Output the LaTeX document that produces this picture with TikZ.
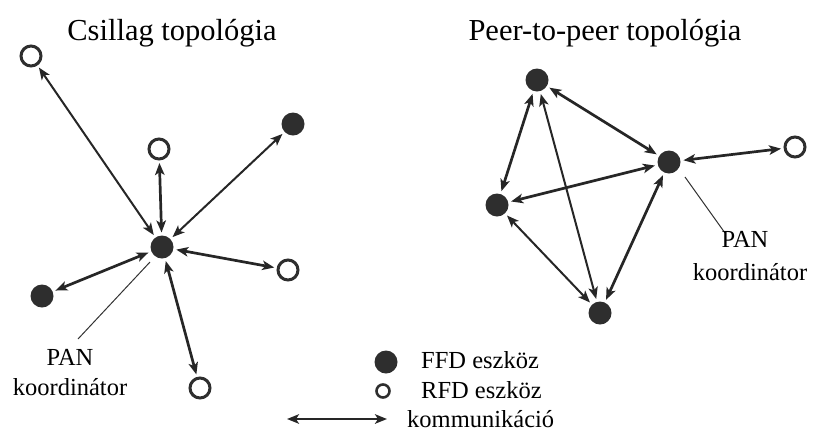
\documentclass[tikz,border=0pt]{standalone}
\usepackage{fontspec}
\setmainfont{Liberation Serif}
\usetikzlibrary{arrows.meta}
\definecolor{devfill}{HTML}{2E2E2E}
\begin{document}
\begin{tikzpicture}[x=1pt,y=-1pt,
  ffd/.style={circle,fill=devfill,minimum size=23pt,inner sep=0pt,outer sep=3pt},
  rfd/.style={circle,draw=devfill,line width=3pt,fill=white,minimum size=20pt,inner sep=0pt,outer sep=4pt},
  comm/.style={{Stealth[length=12pt,width=9.5pt,inset=3pt]}-{Stealth[length=12pt,width=9.5pt,inset=3pt]},line width=2pt,draw=black!85},
  commthick/.style={comm,line width=2.7pt},
  leader/.style={draw=black!80,line width=1pt},
  title/.style={font=\fontsize{30.5}{34}\selectfont,anchor=base},
  lbl/.style={font=\fontsize{24.5}{28}\selectfont,anchor=base,inner sep=0pt}]
\useasboundingbox (0,0) rectangle (813,432);

% ---- star topology ----
\node[title] (t1) at (172,40) {Csillag topológia};
\node[ffd] (c)  at (162,247) {};
\node[rfd] (s1) at (31,56) {};
\node[rfd] (s2) at (159,149) {};
\node[ffd] (s3) at (293,124) {};
\node[ffd] (s4) at (42,296) {};
\node[rfd] (s5) at (288,270) {};
\node[rfd] (s6) at (200,388) {};

\draw[comm] (c) -- (s1);
\draw[commthick] (c) -- (s2);
\draw[comm] (c) -- (s3);
\draw[commthick] (c) -- (s4);
\draw[commthick] (c) -- (s5);
\draw[commthick] (c) -- (s6);

\coordinate (l1a) at (150,262);
\coordinate (l1b) at (78,339);
\draw[leader] (l1a) -- (l1b);
\node[lbl] (pan1) at (70,365) {PAN};
\node[lbl] (koord1) at (70,395) {koordinátor};

% ---- peer-to-peer topology ----
\node[title] (t2) at (605,40) {Peer-to-peer topológia};
\node[ffd] (pa) at (537,80) {};
\node[ffd] (pb) at (669,162) {};
\node[ffd] (pc) at (497,205) {};
\node[ffd] (pd) at (600,313) {};
\node[rfd] (pe) at (795,147) {};

\draw[commthick] (pa) -- (pb);
\draw[commthick] (pa) -- (pc);
\draw[comm] (pa) -- (pd);
\draw[commthick] (pc) -- (pb);
\draw[comm] (pc) -- (pd);
\draw[commthick] (pb) -- (pd);
\draw[commthick] (pb) -- (pe);

\coordinate (l2a) at (685,177);
\coordinate (l2b) at (725,233);
\draw[leader] (l2a) -- (l2b);
\node[lbl] (pan2) at (745,247) {PAN};
\node[lbl] (koord2) at (750,280) {koordinátor};

% ---- legend ----
\node[ffd] (lg1) at (386,362) {};
\node[circle,draw=devfill,line width=2.6pt,minimum size=13pt,inner sep=0pt] (lg2) at (383,391) {};
\coordinate (la) at (287,419);
\coordinate (lb) at (387,419);
\draw[commthick] (la) -- (lb);
\node[lbl,anchor=base west] (lt1) at (421,368) {FFD eszköz};
\node[lbl,anchor=base west] (lt2) at (421,398) {RFD eszköz};
\node[lbl,anchor=base west] (lt3) at (407,427) {kommunikáció};
\end{tikzpicture}
\end{document}
